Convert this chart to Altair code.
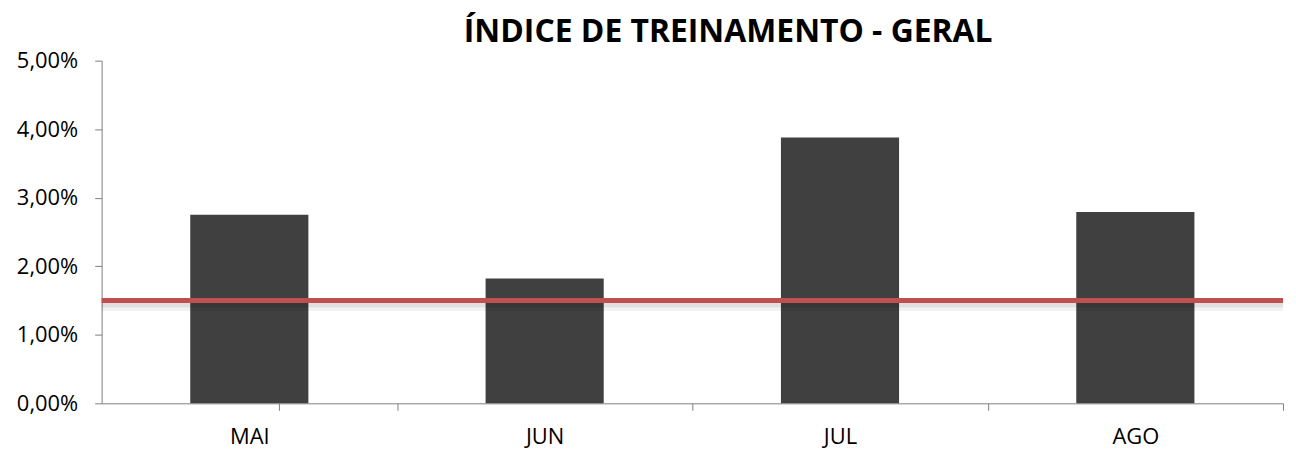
import altair as alt
import pandas as pd

months = ["MAI", "JUN", "JUL", "AGO"]
values = [0.0275, 0.0182, 0.0388, 0.0279]
target = [0.015]
y_ticks = [0.0, 0.01, 0.02, 0.03, 0.04, 0.05]
title_text = "ÍNDICE DE TREINAMENTO - GERAL"

df = pd.DataFrame({"mes": months, "valor": values})
df_t = pd.DataFrame({"meta": target})

FONT = "Open Sans"
W, H = 1186, 344
STEP = W / len(months)
label_expr = "replace(format(datum.value, '.2%'), '.', ',')"

x_enc = alt.X(
    "mes:N", sort=months, title=None,
    scale=alt.Scale(paddingInner=0.6, paddingOuter=0.3),
    axis=alt.Axis(labelAngle=0, bandPosition=1, tickOffset=0.3 * STEP, labelOffset=-0.3 * STEP,
                  tickExtra=True, labelFont=FONT, labelFontSize=22,
                  labelColor="#000000", domainColor="#7f7f7f", tickColor="#7f7f7f",
                  tickSize=7, labelPadding=16, grid=False),
)
y_enc = alt.Y(
    "valor:Q", title=None,
    scale=alt.Scale(domain=[0, 0.05], nice=False),
    axis=alt.Axis(values=y_ticks, labelExpr=label_expr, labelFont=FONT, labelFontSize=22,
                  labelColor="#000000", domainColor="#7f7f7f", tickColor="#7f7f7f",
                  tickSize=7, labelPadding=17, grid=False),
)

bars = alt.Chart(df).mark_bar(color="#404040").encode(x=x_enc, y=y_enc)

def shadow(op, sw, off):
    return alt.Chart(df_t).mark_rule(color="#000000", opacity=op, strokeWidth=sw, yOffset=off).encode(
        y=alt.Y("meta:Q"), x=alt.value(0), x2=alt.value(W))

line = alt.Chart(df_t).mark_rule(color="#c0504d", strokeWidth=5).encode(
    y=alt.Y("meta:Q"), x=alt.value(0), x2=alt.value(W))

chart = alt.layer(bars, shadow(0.05, 9, 6), shadow(0.07, 6, 4), line).properties(
    width=W, height=H,
    background="#ffffff",
    title=alt.TitleParams(title_text, font=FONT, fontSize=32, fontWeight="bold",
                          color="#000000", anchor="middle", dx=36, offset=1),
    padding={"left": 8, "top": 7, "right": 0, "bottom": 5},
).configure_view(stroke=None)

chart.save("out.html", embed_options={"renderer": "svg", "actions": False})
